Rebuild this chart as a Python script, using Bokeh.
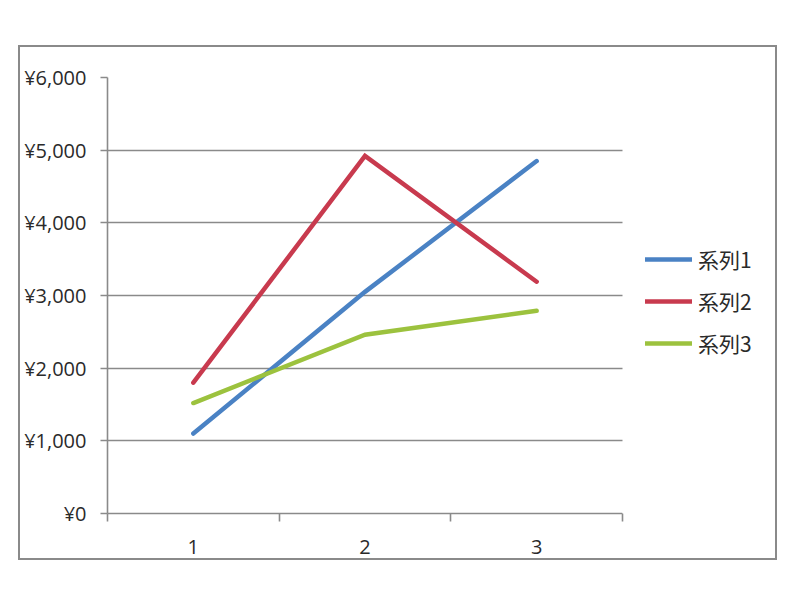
from bokeh.plotting import figure
from bokeh.models import Range1d, FixedTicker, Legend, LegendItem, BoxAnnotation
from bokeh.embed import file_html
from bokeh.resources import INLINE

# ---- data ----
categories = [1, 2, 3]
category_labels = ["1", "2", "3"]
series_names = ["系列1", "系列2", "系列3"]
series1 = [1100, 3050, 4850]
series2 = [1800, 4920, 3190]
series3 = [1520, 2460, 2790]
y_ticks = [0, 1000, 2000, 3000, 4000, 5000, 6000]
y_tick_labels = ["¥0", "¥1,000", "¥2,000", "¥3,000", "¥4,000", "¥5,000", "¥6,000"]
colors = ["#4a82c4", "#c83a4e", "#9cc23e"]

GRAY = "#8a8a8a"
FONT = "Open Sans"

# layout geometry (pixels)
W, H = 755, 511
LEFT, TOP, BOTTOM = 87, 30, 45
PLOT_W = 515          # width of the category area
LEGEND_W = W - LEFT - PLOT_W

x_start = categories[0] - 0.5
x_cat_end = categories[-1] + 0.5
x_end = x_cat_end + LEGEND_W * (x_cat_end - x_start) / PLOT_W

p = figure(width=W, height=H, output_backend="svg", toolbar_location=None,
           x_range=Range1d(x_start, x_end), y_range=Range1d(0, 6000),
           min_border_left=LEFT, min_border_right=0, min_border_top=TOP,
           min_border_bottom=BOTTOM)
p.margin = (47, 0, 0, 20)
p.styles = {"outline": "2px solid " + GRAY, "outline-offset": "0px"}
p.outline_line_color = None
p.background_fill_color = "white"
p.border_fill_color = "white"

# y axis
p.yaxis.ticker = FixedTicker(ticks=y_ticks)
p.yaxis.major_label_overrides = {t: l for t, l in zip(y_ticks, y_tick_labels)}
p.yaxis.axis_line_color = GRAY
p.yaxis.axis_line_width = 1.6
p.yaxis.major_tick_line_color = GRAY
p.yaxis.major_tick_line_width = 1.6
p.yaxis.major_tick_out = 7
p.yaxis.major_tick_in = 0
p.yaxis.minor_tick_line_color = None
p.yaxis.major_label_standoff = 14
p.yaxis.major_label_text_font = FONT
p.yaxis.major_label_text_font_size = "20px"
p.yaxis.major_label_text_color = "#2a2a2a"

# x axis (category ticks at boundaries)
bounds = [c - 0.5 for c in categories] + [categories[-1] + 0.5]
p.xaxis.ticker = FixedTicker(ticks=categories, minor_ticks=bounds)
p.xaxis.bounds = (x_start, x_cat_end)
p.xaxis.major_label_overrides = {c: l for c, l in zip(categories, category_labels)}
p.xaxis.axis_line_color = GRAY
p.xaxis.axis_line_width = 1.6
p.xaxis.major_tick_line_color = None
p.xaxis.major_tick_out = 0
p.xaxis.major_tick_in = 0
p.xaxis.minor_tick_line_color = GRAY
p.xaxis.minor_tick_line_width = 1.6
p.xaxis.minor_tick_out = 8
p.xaxis.minor_tick_in = 0
p.xaxis.major_label_standoff = 18
p.xaxis.major_label_text_font = FONT
p.xaxis.major_label_text_font_size = "20px"
p.xaxis.major_label_text_color = "#2a2a2a"

p.xgrid.grid_line_color = None
p.ygrid.ticker = FixedTicker(ticks=y_ticks)
p.ygrid.grid_line_color = GRAY
p.ygrid.grid_line_width = 1.6

renderers = []
for vals, col in zip([series1, series2, series3], colors):
    r = p.line(categories, vals, line_color=col, line_width=4.5,
               line_cap="round", line_join="miter")
    renderers.append(r)

# blank legend area to the right of the category area (hides grid there)
p.add_layout(BoxAnnotation(left=x_cat_end, fill_color="white", fill_alpha=1,
                           line_alpha=0, level="annotation"))

legend = Legend(items=[LegendItem(label=n, renderers=[r]) for n, r in zip(series_names, renderers)],
                location=(PLOT_W + 23, 155), orientation="vertical",
                glyph_width=47, glyph_height=20, label_standoff=6, spacing=12,
                padding=0, margin=0, border_line_alpha=0, background_fill_alpha=0,
                label_text_font="Noto Sans CJK JP", label_text_font_size="21px",
                label_text_color="#2a2a2a")
p.add_layout(legend)

open("out.html", "w").write(file_html(p, INLINE))
